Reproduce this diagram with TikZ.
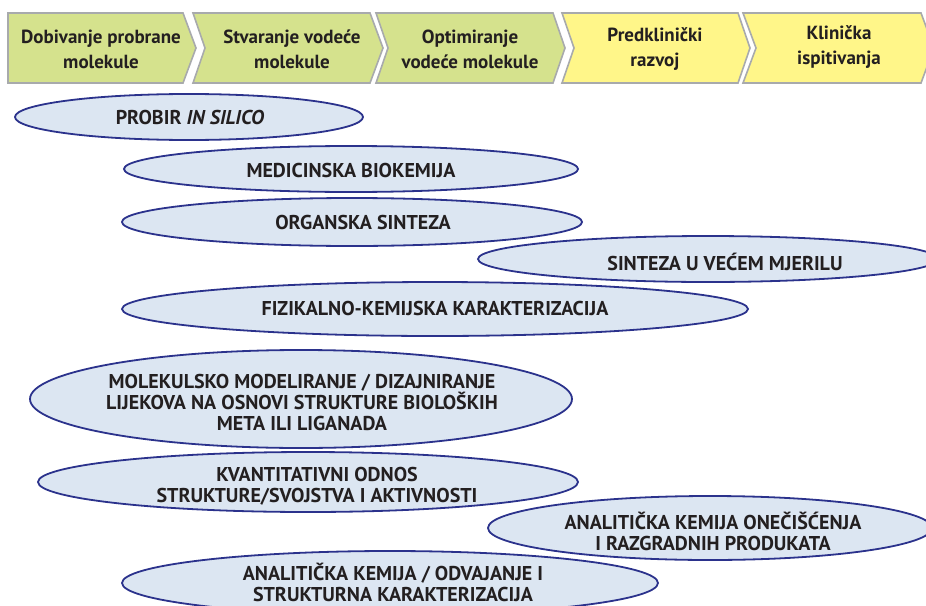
\documentclass[tikz,border=0pt]{standalone}
\usepackage{fontspec}
\setmainfont{PT Sans}
\definecolor{chgreen}{RGB}{213,226,141}
\definecolor{chyellow}{RGB}{255,246,137}
\definecolor{chborder}{RGB}{168,170,172}
\definecolor{elfill}{RGB}{220,230,242}
\definecolor{eldraw}{RGB}{43,50,140}
\definecolor{txt}{RGB}{35,31,32}
\tikzset{
  chev/.style={draw=chborder, line width=1.6pt, line join=miter},
  chtext/.style={text=txt, font=\fontsize{19}{25}\selectfont\bfseries, align=center, inner sep=0pt},
  ell/.style={draw=eldraw, fill=elfill, line width=1.8pt},
  eltext/.style={text=txt, font=\fontsize{20}{21}\selectfont\bfseries, align=center, inner sep=0pt}
}
\begin{document}
\begin{tikzpicture}[x=1pt,y=-1pt]
\useasboundingbox (0,0) rectangle (926,605);
% chevrons
\path[chev, fill=chgreen] (8,13) -- (183,13) -- (196,48) -- (183,83) -- (8,83) -- cycle;
\path[chev, fill=chgreen] (193,13) -- (370,13) -- (383,48) -- (370,83) -- (193,83) -- (205,48) -- cycle;
\path[chev, fill=chgreen] (376,13) -- (553,13) -- (565,48) -- (553,83) -- (376,83) -- (388,48) -- cycle;
\path[chev, fill=chyellow] (562,13) -- (738,13) -- (750,48) -- (738,83) -- (562,83) -- (574,48) -- cycle;
\path[chev, fill=chyellow] (743,13) -- (921,13) -- (934,48) -- (921,83) -- (743,83) -- (756,48) -- cycle;
\node[chtext] (c1) at (101,49) {Dobivanje probrane\\molekule};
\node[chtext] (c2) at (292,49) {Stvaranje vodeće\\molekule};
\node[chtext] (c3) at (470,49) {Optimiranje\\vodeće molekule};
\node[chtext] (c4) at (655,49) {Predklinički\\razvoj};
\node[chtext] (c5) at (839,47) {Klinička\\ispitivanja};
% ellipses
\draw[ell] (189,117) ellipse [x radius=174, y radius=23];
\node[eltext] (e1) at (190,117) {PROBIR \textit{IN SILICO}};
\draw[ell] (351,169) ellipse [x radius=227, y radius=23];
\node[eltext] (e2) at (351,170) {MEDICINSKA BIOKEMIJA};
\draw[ell] (352,222) ellipse [x radius=230, y radius=24];
\node[eltext] (e3) at (363,222) {ORGANSKA SINTEZA};
\draw[ell] (708,259) ellipse [x radius=230, y radius=23];
\node[eltext] (e4) at (725,262) {SINTEZA U VEĆEM MJERILU};
\draw[ell] (435,309) ellipse [x radius=313, y radius=27];
\node[eltext] (e5) at (435,308) {FIZIKALNO-KEMIJSKA KARAKTERIZACIJA};
\draw[ell] (301,399) ellipse [x radius=271, y radius=49];
\node[eltext] (e6) at (302,402) {MOLEKULSKO MODELIRANJE / DIZAJNIRANJE\\LIJEKOVA NA OSNOVI STRUKTURE BIOLOŠKIH\\META ILI LIGANADA};
\draw[ell] (308,482) ellipse [x radius=270, y radius=30];
\node[eltext] (e7) at (317,486) {KVANTITATIVNI ODNOS\\STRUKTURE/SVOJSTVA I AKTIVNOSTI};
\draw[ell] (710,528) ellipse [x radius=222, y radius=32];
\node[eltext] (e8) at (713,531) {ANALITIČKA KEMIJA ONEČIŠĆENJA\\I RAZGRADNIH PRODUKATA};
\draw[ell] (390,583) ellipse [x radius=268, y radius=32];
\node[eltext] (e9) at (393,582) {ANALITIČKA KEMIJA / ODVAJANJE I\\STRUKTURNA KARAKTERIZACIJA};
\end{tikzpicture}
\end{document}
